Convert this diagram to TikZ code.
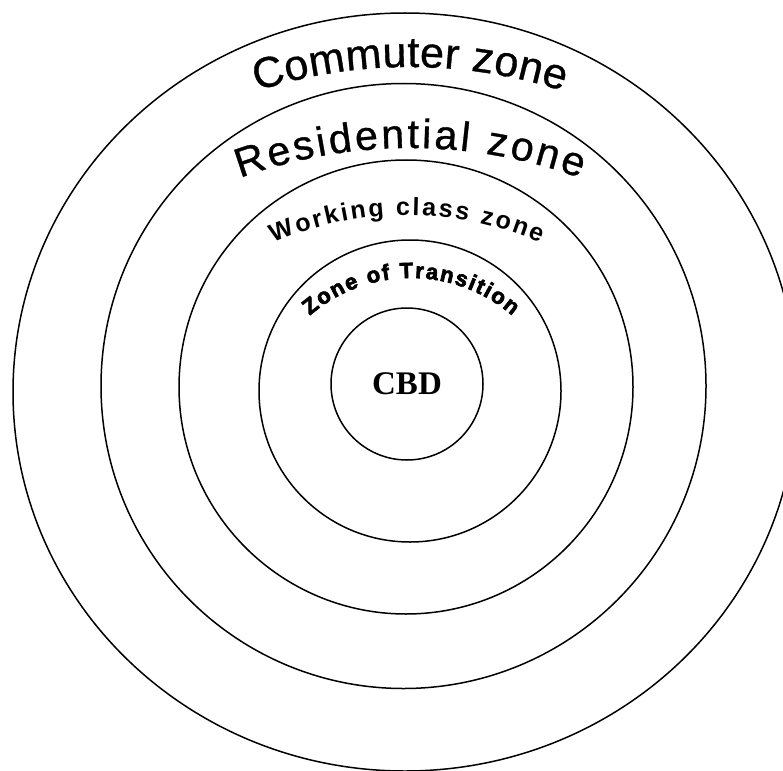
\documentclass[tikz,border=0pt]{standalone}
\usepackage{fontspec}
\newfontfamily\arialfont[FakeBold=0.8]{Liberation Sans}
\newfontfamily\arialboldfont{Liberation Sans Bold}
\newfontfamily\blackfont[FakeBold=3]{Liberation Sans Bold}
\newfontfamily\timesfont{Liberation Serif}
\usetikzlibrary{shapes.geometric,decorations.text,calc}

\newcommand\commuterstyle{\arialfont\fontsize{43}{43}\selectfont}
\newcommand\residentialstyle{\arialfont\fontsize{41}{41}\selectfont}
\newcommand\workingstyle{\arialboldfont\fontsize{25}{25}\selectfont}
\newcommand\transitionstyle{\blackfont\fontsize{22}{22}\selectfont}

\begin{document}
\begin{tikzpicture}[
  x=1pt, y=1pt,
  ring/.style={draw, circle, line width=1.5pt, inner sep=0pt},
  arctext/.style={decorate, decoration={text along path, text align={fit to path}, text={#1}}}
]
  \clip (0,0) rectangle (783,-770);

  \node[ring, ellipse, minimum width=784pt, minimum height=758pt] (commuter) at (405,-392) {};
  \node[ring, minimum size=605pt] (residential) at (403.5,-386) {};
  \node[ring, minimum size=454pt] (working) at (406,-387) {};
  \node[ring, minimum size=302pt] (transition) at (410,-391) {};
  \node[ring, minimum size=152pt, font=\timesfont\bfseries\fontsize{33}{33}\selectfont] (cbd) at (407,-384) {CBD};

  \coordinate (cc) at (410,-567);
  \coordinate (rc) at (410,-645);
  \coordinate (wc) at (407,-547);
  \coordinate (tc) at (411,-433);

  \path[arctext={|\commuterstyle|Commuter zone}]
    ($(cc)+(107.8:500)$) arc[start angle=107.8, end angle=72.2, radius=500];
  \path[arctext={|\residentialstyle|Residential zone}]
    ($(rc)+(110:497)$) arc[start angle=110, end angle=70, radius=497];
  \path[arctext={|\workingstyle|Working class zone}]
    ($(wc)+(113.7:332)$) arc[start angle=113.7, end angle=66.3, radius=332];
  \path[arctext={|\transitionstyle|Zone of Transition}]
    ($(tc)+(130.8:155)$) arc[start angle=130.8, end angle=49.2, radius=155];
\end{tikzpicture}
\end{document}
